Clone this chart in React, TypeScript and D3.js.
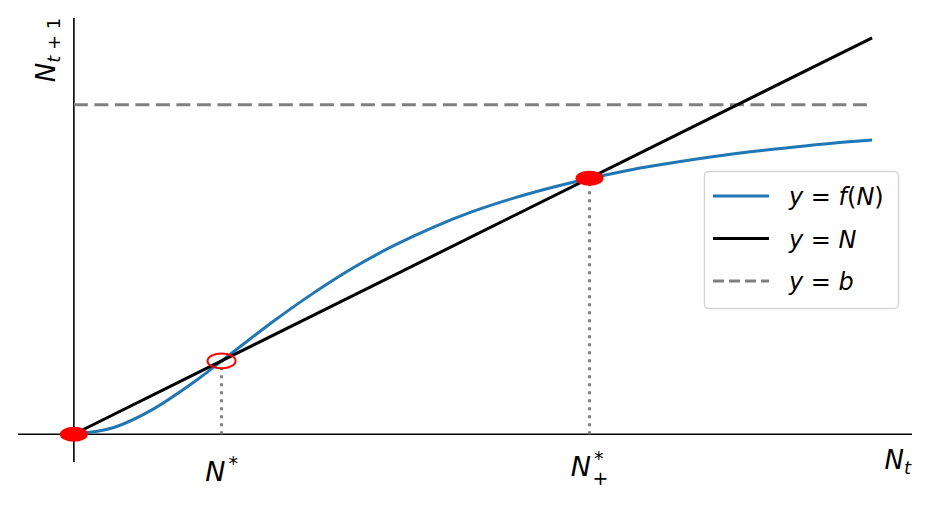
import React from 'react';
import * as d3 from 'd3';

// curve samples
const nValues = [0, 0.5, 1, 1.5, 2, 2.5, 3, 3.5, 4, 4.5, 5, 5.5, 6, 6.5, 7, 7.5, 8, 8.5, 9, 9.5, 10];
const fValues = [0, 0.17, 0.64, 1.31, 2.08, 2.85, 3.56, 4.2, 4.75, 5.22, 5.62, 5.95, 6.23, 6.47, 6.68, 6.85, 7.0, 7.13, 7.24, 7.34, 7.42];
const identityEnds = [0, 10];
const bLevel = 8.31;
const fixedPoints = [
    { n: 0, stable: true },
    { n: 1.85, stable: false },
    { n: 6.46, stable: true },
];

const W = 931;
const H = 505;
const FONT = 'DejaVu Sans, sans-serif';

const App: React.FC = () => {
    const x = d3.scaleLinear().domain([-0.7, 10.5]).range([18, 912]);
    const y = d3.scaleLinear().domain([-0.7, 10.5]).range([462, 18]);

    const curve = d3.line<number>()
        .x((_, i) => x(nValues[i]))
        .y(d => y(d))
        .curve(d3.curveMonotoneX)(fValues) || '';

    const x0 = x(0);
    const y0 = y(0);

    const legendItems = [
        { color: '#1f77b4', dash: undefined, label: 'f' },
        { color: '#000000', dash: undefined, label: 'N' },
        { color: '#808080', dash: '11,5', label: 'b' },
    ];

    return (
        <svg width={W} height={H} style={{ position: 'fixed', left: 0, top: 0, background: '#fff' }} fontFamily={FONT}>
            {/* axes through origin */}
            <line x1={18} x2={912} y1={y0} y2={y0} stroke="#000" strokeWidth={1.6} />
            <line x1={x0} x2={x0} y1={18} y2={462} stroke="#000" strokeWidth={1.6} />

            {/* y = b */}
            <line x1={x(0)} x2={x(10)} y1={y(bLevel)} y2={y(bLevel)} stroke="#808080" strokeWidth={3} strokeDasharray="14,6.5" />

            {/* dotted drops */}
            {fixedPoints.filter(p => p.n > 0).map((p, i) => (
                <line key={i} x1={x(p.n)} x2={x(p.n)} y1={y0} y2={y(p.n)} stroke="#808080" strokeWidth={3} strokeDasharray="3,5" />
            ))}

            <path d={curve} fill="none" stroke="#1f77b4" strokeWidth={3} />
            <line x1={x(identityEnds[0])} y1={y(identityEnds[0])} x2={x(identityEnds[1])} y2={y(identityEnds[1])} stroke="#000" strokeWidth={3} />

            {fixedPoints.map((p, i) => (
                <ellipse key={i} cx={x(p.n)} cy={y(p.n)} rx={14} ry={7.5}
                    fill={p.stable ? '#ff0000' : 'none'} stroke="#ff0000" strokeWidth={p.stable ? 0 : 2} />
            ))}

            {/* point labels */}
            <text x={x(1.85)} y={481} fontSize={27} textAnchor="middle">
                <tspan fontStyle="italic">N</tspan>
                <tspan fontSize={19} dx={3} dy={-11}>*</tspan>
            </text>
            <text x={x(6.46)} y={476} fontSize={27} textAnchor="middle">
                <tspan fontStyle="italic">N</tspan>
                <tspan fontSize={19} dx={3} dy={-11}>*</tspan>
                <tspan fontSize={19} dx={-11} dy={20}>+</tspan>
            </text>

            {/* axis labels */}
            <text x={911} y={469} fontSize={26} textAnchor="end">
                <tspan fontStyle="italic">N</tspan>
                <tspan fontSize={18} fontStyle="italic" dy={5}>t</tspan>
            </text>
            <text transform={`translate(55,50) rotate(-90)`} fontSize={26} textAnchor="middle">
                <tspan fontStyle="italic">N</tspan>
                <tspan fontSize={18} dy={5}><tspan fontStyle="italic">t</tspan> + 1</tspan>
            </text>

            {/* legend */}
            <rect x={704.5} y={171.5} width={194} height={137} rx={4} fill="#fff" fillOpacity={0.8} stroke="#d6d6d6" strokeWidth={1.5} />
            {legendItems.map((it, i) => {
                const ly = 196 + i * 42.5;
                return (
                    <g key={i}>
                        <line x1={713} x2={769} y1={ly} y2={ly} stroke={it.color} strokeWidth={3} strokeDasharray={it.dash} />
                        <text x={789} y={ly + 9} fontSize={24}>
                            <tspan fontStyle="italic">y</tspan>
                            <tspan> = </tspan>
                            {it.label === 'f' ? (
                                <>
                                    <tspan fontStyle="italic">f</tspan>
                                    <tspan>(</tspan>
                                    <tspan fontStyle="italic">N</tspan>
                                    <tspan>)</tspan>
                                </>
                            ) : (
                                <tspan fontStyle="italic">{it.label}</tspan>
                            )}
                        </text>
                    </g>
                );
            })}
        </svg>
    );
};

export default App;
